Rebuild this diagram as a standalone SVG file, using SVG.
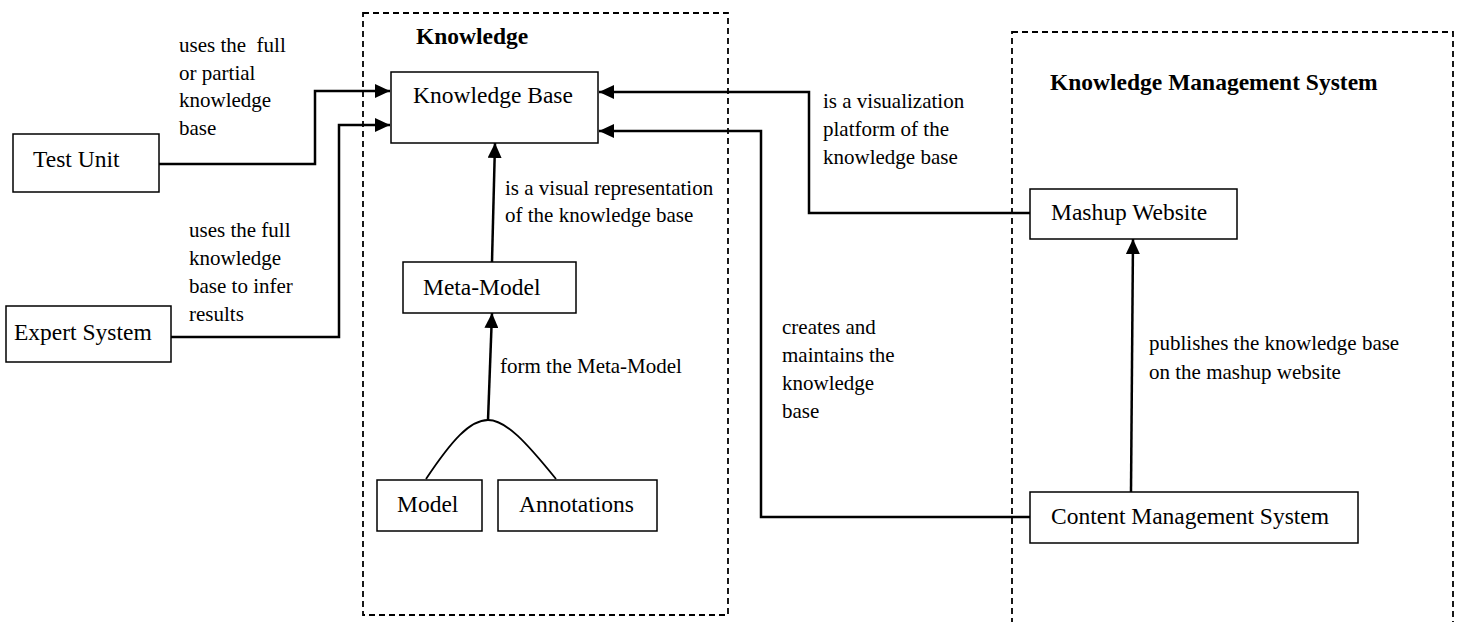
<svg xmlns="http://www.w3.org/2000/svg" width="1460" height="622" viewBox="0 0 1460 622">
<style>
  text { font-family: "Liberation Serif", "Times New Roman", "DejaVu Serif", serif; fill: #000; }
  .node rect { fill: #fff; stroke: #000; stroke-width: 1.5; }
  .node text { font-size: 23.5px; }
  .lbl { font-size: 21px; white-space: pre; }
  .title { font-size: 23.5px; font-weight: bold; }
  .group { fill: none; stroke: #000; stroke-width: 1.8; stroke-dasharray: 6 4; }
  .conn { fill: none; stroke: #000; stroke-width: 2.5; }
  .curve { fill: none; stroke: #000; stroke-width: 1.8; }
</style>
<defs>
  <marker id="arr" markerUnits="userSpaceOnUse" markerWidth="16" markerHeight="14" refX="15" refY="7" orient="auto">
    <path d="M0,0 L15,7 L0,14 Z" fill="#000"/>
  </marker>
</defs>

<g id="group-knowledge">
  <rect class="group" x="363" y="13" width="365" height="602"/>
  <text class="title" x="416" y="44">Knowledge</text>
</g>
<g id="group-kms">
  <rect class="group" x="1012" y="32" width="441" height="640"/>
  <text class="title" x="1050" y="90">Knowledge Management System</text>
</g>

<g id="connectors">
  <path class="conn" d="M159,164 H315 V91 H390" marker-end="url(#arr)"/>
  <path class="conn" d="M171,337 H339 V125 H390" marker-end="url(#arr)"/>
  <path class="conn" d="M1030,213 H809 V92 H599" marker-end="url(#arr)"/>
  <path class="conn" d="M1030,517 H761 V131 H599" marker-end="url(#arr)"/>
  <path class="conn" d="M492,262 L495,143" marker-end="url(#arr)"/>
  <path class="conn" d="M488,420 L492,313" marker-end="url(#arr)"/>
  <path class="curve" d="M426,479 C452,440 470,420 488,420 C506,420 526,442 556,479"/>
  <path class="conn" d="M1131,492 L1133,239" marker-end="url(#arr)"/>

  <text class="lbl" x="179" y="52">uses the  full</text>
  <text class="lbl" x="179" y="79.5">or partial</text>
  <text class="lbl" x="179" y="107">knowledge</text>
  <text class="lbl" x="179" y="135">base</text>

  <text class="lbl" x="189" y="237">uses the full</text>
  <text class="lbl" x="189" y="265">knowledge</text>
  <text class="lbl" x="189" y="292.5">base to infer</text>
  <text class="lbl" x="189" y="320.5">results</text>

  <text class="lbl" x="505" y="195">is a visual representation</text>
  <text class="lbl" x="505" y="222">of the knowledge base</text>

  <text class="lbl" x="500" y="373">form the Meta-Model</text>

  <text class="lbl" x="823" y="108">is a visualization</text>
  <text class="lbl" x="823" y="136">platform of the</text>
  <text class="lbl" x="823" y="164">knowledge base</text>

  <text class="lbl" x="782" y="334">creates and</text>
  <text class="lbl" x="782" y="362">maintains the</text>
  <text class="lbl" x="782" y="390">knowledge</text>
  <text class="lbl" x="782" y="418">base</text>

  <text class="lbl" x="1149" y="350">publishes the knowledge base</text>
  <text class="lbl" x="1149" y="379">on the mashup website</text>
</g>

<g id="test-unit" class="node">
  <rect x="13" y="134" width="146" height="58"/>
  <text x="33" y="167">Test Unit</text>
</g>
<g id="expert-system" class="node">
  <rect x="6" y="306" width="165" height="56"/>
  <text x="14" y="340">Expert System</text>
</g>
<g id="knowledge-base" class="node">
  <rect x="391" y="72" width="207" height="71"/>
  <text x="413" y="103">Knowledge Base</text>
</g>
<g id="meta-model" class="node">
  <rect x="403" y="262" width="173" height="51"/>
  <text x="423" y="295">Meta-Model</text>
</g>
<g id="model" class="node">
  <rect x="377" y="480" width="105" height="51"/>
  <text x="397" y="512">Model</text>
</g>
<g id="annotations" class="node">
  <rect x="498" y="480" width="159" height="51"/>
  <text x="519" y="512">Annotations</text>
</g>
<g id="mashup-website" class="node">
  <rect x="1030" y="189" width="207" height="50"/>
  <text x="1051" y="220">Mashup Website</text>
</g>
<g id="cms" class="node">
  <rect x="1030" y="492" width="328" height="51"/>
  <text x="1051" y="524">Content Management System</text>
</g>
</svg>
